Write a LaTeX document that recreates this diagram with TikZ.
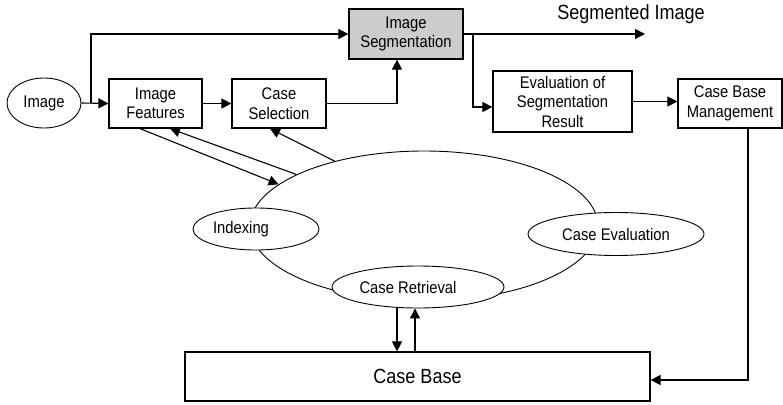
\documentclass[tikz,border=0pt]{standalone}
\usepackage{fontspec}
\setmainfont{Liberation Sans}[FakeStretch=0.88]
\usetikzlibrary{shapes.geometric,arrows.meta,calc}

\begin{document}
\begin{tikzpicture}[x=1pt,y=-1pt,
  every node/.style={font=\fontsize{16.8}{19.5}\selectfont},
  bigtext/.style={font=\fontsize{20.5}{24}\selectfont},
  box/.style={draw,line width=1.2pt,rectangle,align=center,inner sep=0pt},
  oval/.style={draw,line width=0.9pt,ellipse,fill=white,inner sep=0pt},
  arr/.style={line width=1.1pt,-{Triangle[length=10pt,width=10pt]}},
  link/.style={line width=1.1pt}]
\useasboundingbox (0,0) rectangle (783,404);

% processing chain
\node[oval,minimum width=74pt,minimum height=50pt] (img) at (44,103) {Image};
\node[box,minimum width=93pt,minimum height=49pt] (feat) at (155.5,103.5) {Image\\Features};
\node[box,minimum width=94pt,minimum height=49pt] (sel) at (279,103.5) {Case\\Selection};
\node[box,fill=gray!40,minimum width=114pt,minimum height=50pt] (seg) at (406,34) {Image\\Segmentation};
\node[bigtext] (segimg) at (631,14) {Segmented Image};
\node[box,minimum width=139pt,minimum height=61pt] (eval) at (562.5,101.5) {Evaluation of\\Segmentation\\Result};
\node[box,minimum width=104pt,minimum height=49pt] (cbm) at (730,103.5) {Case Base\\Management};
\node[box,bigtext,minimum width=465pt,minimum height=49pt] (cb) at (417.5,376.5) {Case Base};

% CBR cycle
\node[draw,ellipse,line width=0.9pt,minimum width=348pt,minimum height=150pt,inner sep=0pt] (cycle) at (424,226) {};
\node[oval,minimum width=126pt,minimum height=42pt,label={[xshift=-15pt]center:Indexing}] (idx) at (256,229) {};
\node[oval,minimum width=172pt,minimum height=42pt,label={[xshift=-10pt]center:Case Retrieval}] (ret) at (418,287) {};
\node[oval,minimum width=176pt,minimum height=43pt] (ceval) at (616,234) {Case Evaluation};

% helper points
\coordinate (br) at (91,103);
\coordinate (out) at (645,34);
\coordinate (br2) at (473,34);
\coordinate (evin) at (473,107);

% connectors
\draw[arr] (img.east) -- (feat.west);
\draw[arr] (br) |- (seg.west);
\draw[arr] (feat.east) -- (sel.west);
\draw[arr] (sel.east) -| ([xshift=-9pt]seg.south);
\draw[arr] (seg.east) -- (out);
\draw[arr] (br2) -- (evin) -- (evin -| eval.west);
\draw[arr] (eval.east) -- (eval.east -| cbm.west);
\draw[arr] ([xshift=18pt]cbm.south) |- ([yshift=-3.5pt]cb.east);

\draw[arr] ([xshift=-15.5pt]feat.south) -- (cycle.164.8);
\draw[arr] (cycle.158.7) -- ([xshift=14.5pt]feat.south);
\draw[arr] (cycle.144.9) -- ([xshift=-9pt]sel.south);

\draw[arr] ([xshift=-21pt]ret.south) -- ([xshift=-21pt]ret.south |- cb.north);
\draw[arr] ([xshift=-3pt]ret.south |- cb.north) -- ([xshift=-3pt]ret.south);
\end{tikzpicture}
\end{document}
